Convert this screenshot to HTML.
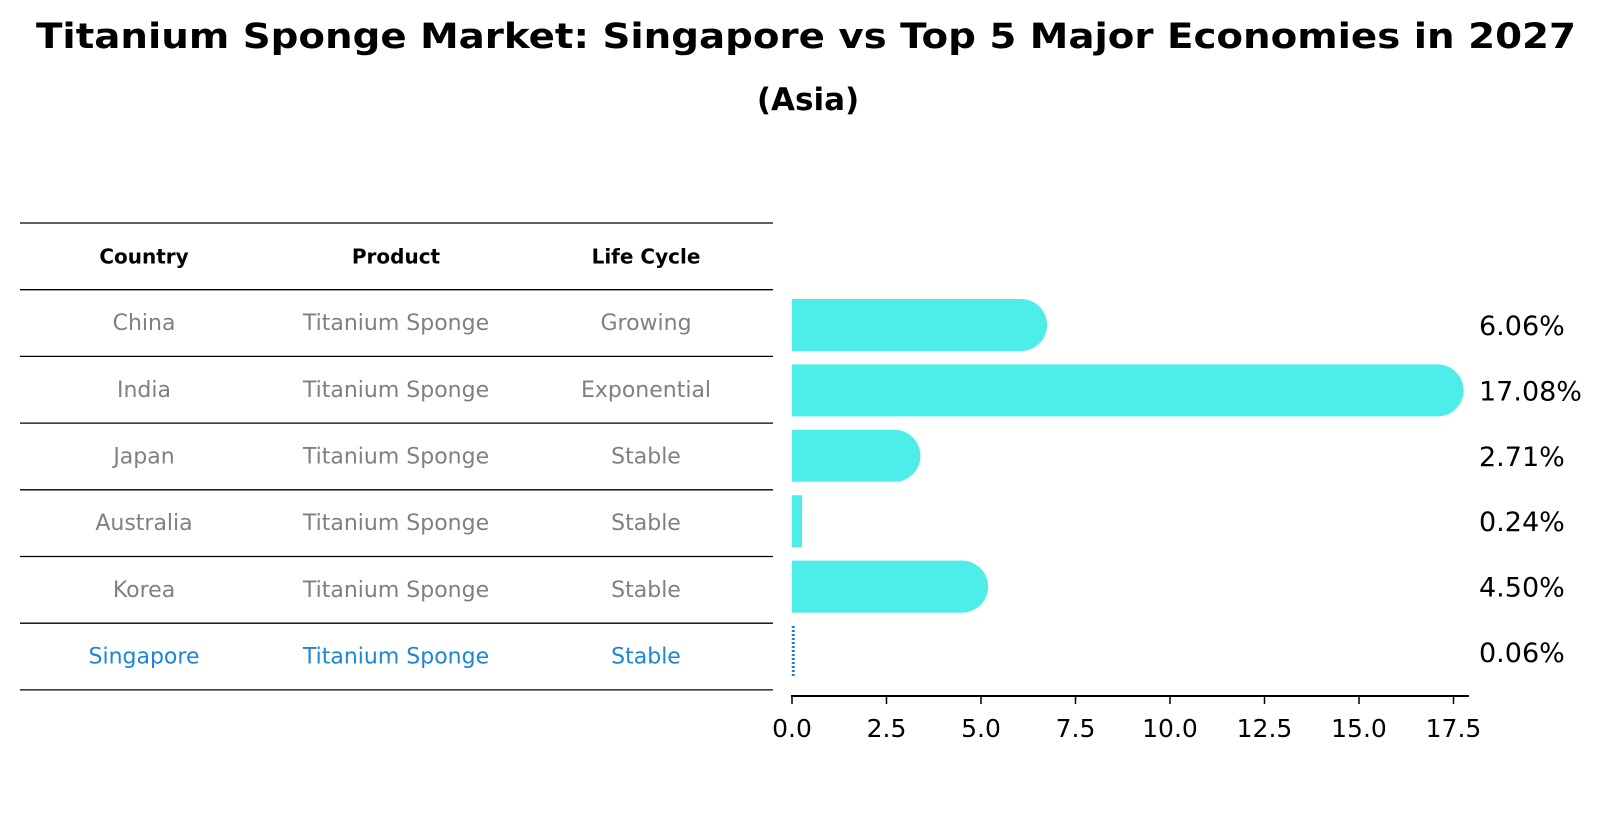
<!DOCTYPE html>
<html><head><meta charset="utf-8"><style>
html,body{margin:0;padding:0;background:#fff;}
svg{display:block;font-family:"DejaVu Sans","Liberation Sans",sans-serif;}
</style></head><body>
<svg id="chart" width="1604" height="823" viewBox="0 0 1604 823" xmlns="http://www.w3.org/2000/svg">
<text x="806" y="48" text-anchor="middle" font-size="35" font-weight="bold" textLength="1540" lengthAdjust="spacingAndGlyphs">Titanium Sponge Market: Singapore vs Top 5 Major Economies in 2027</text>
<text x="808" y="110" text-anchor="middle" font-size="31" font-weight="bold">(Asia)</text>
<g id="table"></g>
<g id="bars"></g>
</svg>
<script>
const countries = ["China","India","Japan","Australia","Korea","Singapore"];
const products = ["Titanium Sponge","Titanium Sponge","Titanium Sponge","Titanium Sponge","Titanium Sponge","Titanium Sponge"];
const lifeCycles = ["Growing","Exponential","Stable","Stable","Stable","Stable"];
const values = [6.06,17.08,2.71,0.24,4.50,0.06];
const valueLabels = ["6.06%","17.08%","2.71%","0.24%","4.50%","0.06%"];
const xTicks = [0,2.5,5,7.5,10,12.5,15,17.5];
const headers = ["Country","Product","Life Cycle"];

const NS="http://www.w3.org/2000/svg";
function mk(tag, attrs, parent){const e=document.createElementNS(NS,tag);for(const k in attrs)e.setAttribute(k,attrs[k]);parent.appendChild(e);return e;}
const x0=792, pxPerUnit=37.8;
function xScale(v){return x0+v*pxPerUnit;}
const rowStep=65.4, firstCenter=325;
function yScale(i){return firstCenter+i*rowStep;}

const table=document.getElementById('table');
const lineTop=223, lineStep=66.7, colX=[144,396,646];
for(let i=0;i<=countries.length+1;i++){
  const y=lineTop+i*lineStep;
  const l=mk('line',{x1:20,x2:773,y1:y,y2:y,stroke:'#000','stroke-width':1.3},table);
  
  
}
headers.forEach((h,j)=>{
  const t=mk('text',{x:colX[j],y:lineTop+lineStep/2+7,'text-anchor':'middle','font-size':20,'font-weight':'bold',fill:'#000'},table);
  t.textContent=h;
  
  
});
countries.forEach((c,i)=>{
  const y=lineTop+(i+1)*lineStep+lineStep/2+7;
  const col = c==="Singapore" ? '#1e86d6' : '#808080';
  [c,products[i],lifeCycles[i]].forEach((s,j)=>{
    const t=mk('text',{x:colX[j],y:y,'text-anchor':'middle','font-size':22,fill:col},table);
    t.textContent=s;
    
    
  });
});

const bars=document.getElementById('bars');
const bh=52, r=26;
values.forEach((v,i)=>{
  const cy=yScale(i), xe=xScale(v);
  if(countries[i]==="Singapore"){
    const l=mk('line',{x1:xe-1,x2:xe-1,y1:cy-bh/2,y2:cy+bh/2,stroke:'#1e7fd6','stroke-width':3,'stroke-dasharray':'2 2'},bars);
    
    
  } else if(xe-x0>r){
    const p=mk('path',{d:`M${x0},${cy-bh/2} H${xe} A${r},${r} 0 0 1 ${xe},${cy+bh/2} H${x0} Z`,fill:'#4deeea'},bars);
    
    
  } else {
    const p=mk('rect',{x:x0,y:cy-bh/2,width:xe-x0+1,height:bh,fill:'#4deeea'},bars);
    
    
  }
  const t=mk('text',{x:1479,y:cy+10,'font-size':27,fill:'#000'},bars);
  t.textContent=valueLabels[i];
  
  
});
const axisY=696;
const ax=mk('line',{x1:x0-1,x2:1469,y1:axisY,y2:axisY,stroke:'#000','stroke-width':2},bars);


xTicks.forEach(v=>{
  const x=xScale(v);
  const tk=mk('line',{x1:x,x2:x,y1:axisY,y2:axisY+8,stroke:'#000','stroke-width':1.5},bars);
  
  
  const t=mk('text',{x:x,y:737,'text-anchor':'middle','font-size':25,fill:'#000'},bars);
  t.textContent=v.toFixed(1);
  
  
});
</script>
</body></html>
